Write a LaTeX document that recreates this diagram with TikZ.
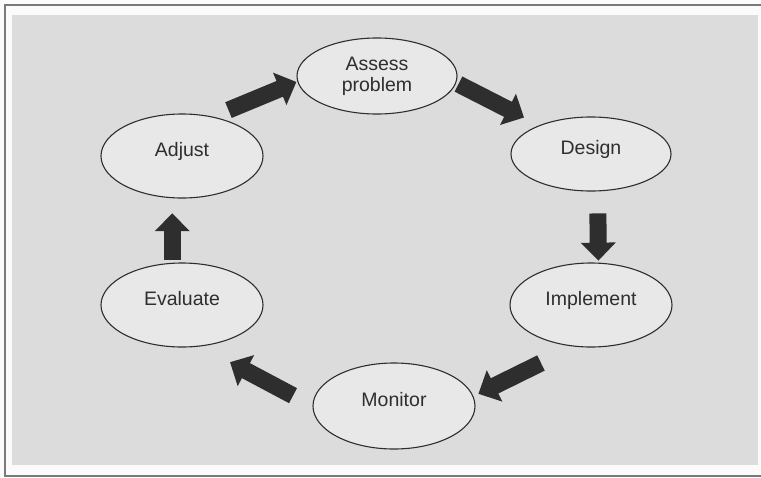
\documentclass[tikz,border=0pt]{standalone}
\usepackage{fontspec}
\setmainfont{Liberation Sans}
\usetikzlibrary{arrows.meta,shapes.geometric}
\definecolor{cyclegray}{HTML}{DCDCDC}
\definecolor{cyclefill}{HTML}{E8E8E8}
\definecolor{cycleink}{HTML}{2E2E2E}
\definecolor{cycleframe}{HTML}{7A7A7A}
\definecolor{cyclepaper}{HTML}{FBFBFB}
\tikzset{
  stage/.style={ellipse,draw=cycleink,line width=1.1pt,fill=cyclefill,minimum width=162pt,minimum height=84pt,inner sep=0pt,font=\fontsize{19.5}{21}\selectfont,text=cycleink,align=center},
  oneline/.style={text height=14pt,text depth=14pt},
  flow/.style={-{Triangle[width=34pt,length=18pt]},line width=17pt,draw=cycleink}
}
\begin{document}
\begin{tikzpicture}[x=1pt,y=-1pt]
\useasboundingbox (0,0) rectangle (761,477);
\fill[cyclepaper] (0,0) rectangle (761,477);
\fill[cyclegray] (12,15) rectangle (758,465);
\draw[cycleframe,line width=2pt] (770,5) -- (5,5) -- (5,476) -- (770,476);
\node[stage,minimum width=160pt,minimum height=76pt] (assess) at (377,76) {Assess\\problem};
\node[stage,oneline,minimum width=160pt,minimum height=74pt] (design) at (591,154) {Design};
\node[stage,oneline] (implement) at (591,305) {Implement};
\node[stage,oneline,minimum height=86pt] (monitor) at (394,406) {Monitor};
\node[stage,oneline] (evaluate) at (182,305) {Evaluate};
\node[stage,oneline] (adjust) at (182,156) {Adjust};
\draw[flow,shorten <=17pt,shorten >=1pt] (adjust.52) -- (assess.184);
\draw[flow,shorten <=2.5pt,shorten >=17pt] (assess.355) -- (design.151);
\draw[flow,shorten <=22pt,shorten >=2pt] (design.280) -- (implement.80);
\draw[flow,shorten <=37pt,shorten >=5.5pt] (implement.248) -- (monitor.7);
\draw[flow,shorten <=22pt,shorten >=33.5pt] (monitor.180) -- (evaluate.294);
\draw[flow,shorten <=3pt,shorten >=15pt] (evaluate.103) -- (adjust.257);
\end{tikzpicture}
\end{document}
